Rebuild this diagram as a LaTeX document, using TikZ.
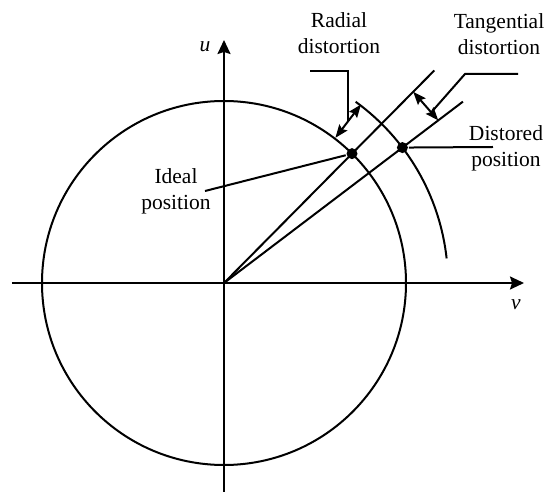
\documentclass[tikz,border=0pt]{standalone}
\usepackage{fontspec}
\setmainfont{Liberation Serif}
\usetikzlibrary{arrows.meta, positioning, calc}

\begin{document}
\begin{tikzpicture}[
        x=1pt, y=1pt,
        line width=2pt,
        font=\fontsize{21.5}{26}\selectfont,
        axis/.style={-{Stealth[length=14pt, width=13pt, inset=2pt]}},
        dimarrow/.style={
            {Stealth[length=13pt, width=10pt, inset=2pt]}-{Stealth[length=13pt, width=10pt, inset=2pt]}
        },
        dot/.style={circle, fill=black, inner sep=0pt, minimum size=11pt},
        label_text/.style={align=center, inner sep=0pt},
        axis_label/.style={font=\fontsize{21.5}{26}\selectfont\itshape, inner sep=0pt}
    ]
    \useasboundingbox (-224,-209) rectangle (320,283);

    % Axes
    \coordinate (O) at (0,0);
    \coordinate (v_left) at (-212,0);
    \coordinate (v_right) at (300,0);
    \coordinate (u_bottom) at (0,-209);
    \coordinate (u_top) at (0,243);
    \draw[axis] (v_left) -- (v_right);
    \draw[axis] (u_bottom) -- (u_top);
    \node[axis_label] (u_label) at (-19,236) {u};
    \node[axis_label] (v_label) at (292,-22) {v};

    % Ideal circle and distorted arc
    \draw (O) circle (182);
    \draw (6.3:224) arc[start angle=6.3, end angle=54, radius=224];

    % Rays through both positions
    \coordinate (ray_ideal) at (45.3:299);
    \coordinate (ray_dist) at (37.2:300);
    \draw (O) -- (ray_ideal);
    \draw (O) -- (ray_dist);

    \node[dot] (ideal) at (45.3:182) {};
    \node[dot] (distorted) at (37.2:224) {};

    % Radial distortion
    \coordinate (rad_in) at (52.5:183);
    \coordinate (rad_out) at (52.5:225);
    \draw[dimarrow] (rad_in) -- (rad_out);
    \coordinate (rad_mid) at ($(rad_in)!0.5!(rad_out)$);
    \coordinate (rad_hook) at (86,212);
    \draw (rad_mid) |- (rad_hook);
    \node[label_text] (radial) at (115,250) {Radial\\distortion};

    % Tangential distortion
    \coordinate (tan_a) at (45.3:269);
    \coordinate (tan_b) at (37.2:269);
    \draw[dimarrow] (tan_a) -- (tan_b);
    \coordinate (tan_mid) at ($(tan_a)!0.72!(tan_b)$);
    \coordinate (tan_hook) at (241,209);
    \coordinate (tan_end) at (294,209);
    \draw (tan_mid) -- (tan_hook) -- (tan_end);
    \node[label_text] (tangential) at (275,249) {Tangential\\distortion};

    % Position labels
    \coordinate (dist_end) at (269,136);
    \draw (distorted) -- (dist_end);
    \node[label_text] (dist_label) at (282,135) {Distored\\position};

    \coordinate (ideal_end) at (-19,92);
    \draw (ideal) -- (ideal_end);
    \node[label_text] (ideal_label) at (-48,92) {Ideal\\position};

\end{tikzpicture}
\end{document}
